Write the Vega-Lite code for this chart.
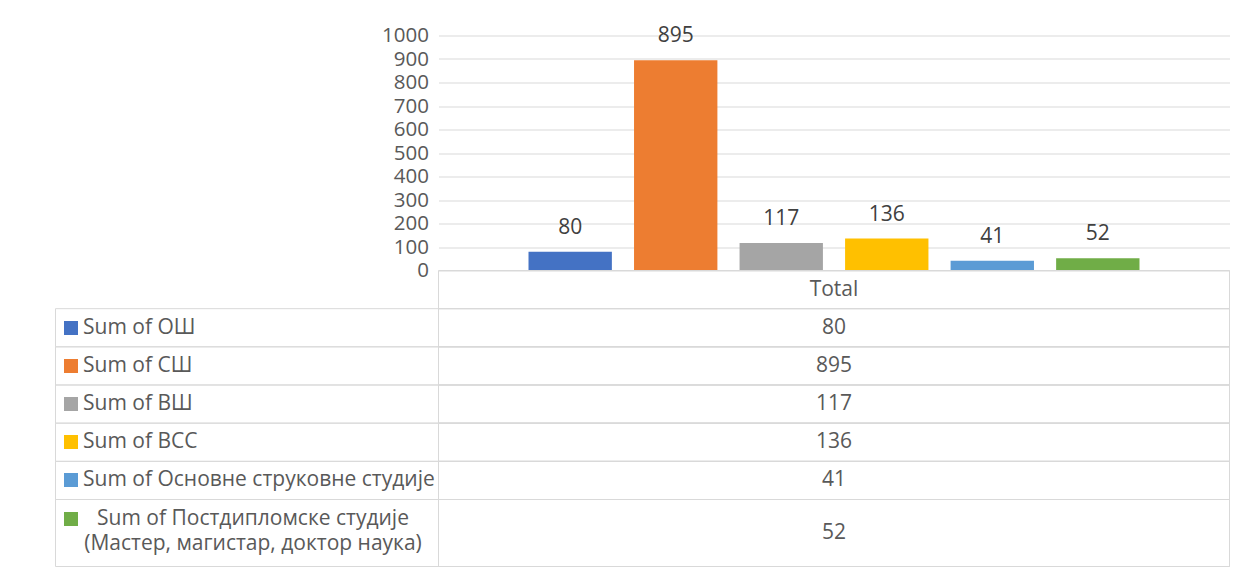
{
  "$schema": "https://vega.github.io/schema/vega-lite/v6.json",
  "padding": {"left": 54.5, "top": 24.5, "right": 5, "bottom": 5},
  "background": "white",
  "spacing": 0,
  "bounds": "flush",
  "config": {
    "view": {"stroke": null},
    "font": "Open Sans",
    "text": {"font": "Open Sans"},
    "axis": {"labelFont": "Open Sans"}
  },
  "datasets": {
    "d": [
      {"series": "Sum of ОШ", "value": 80},
      {"series": "Sum of СШ", "value": 895},
      {"series": "Sum of ВШ", "value": 117},
      {"series": "Sum of ВСС", "value": 136},
      {"series": "Sum of Основне струковне студије", "value": 41},
      {"series": "Sum of Постдипломске студије (Мастер, магистар, доктор наука)", "value": 52}
    ]
  },
  "vconcat": [
    {
      "width": 1174,
      "height": 235,
      "data": {"name": "d"},
      "encoding": {
        "x": {"datum": "Total", "type": "nominal", "scale": {"range": [383, 1174], "paddingInner": 0, "paddingOuter": 0}, "axis": null},
        "xOffset": {"field": "series", "type": "nominal", "sort": null, "scale": {"paddingInner": 0.21, "paddingOuter": 0.853}},
        "y": {
          "field": "value", "type": "quantitative",
          "scale": {"domain": [0, 1000], "nice": false},
          "axis": {
            "title": null, "offset": -383, "values": [0, 100, 200, 300, 400, 500, 600, 700, 800, 900, 1000],
            "format": "d",
            "domain": false, "ticks": false, "labelPadding": 10, "labelFontSize": 20.5, "labelColor": "#595959",
            "labelFlush": false, "labelOverlap": false, "grid": true, "gridColor": "#D9D9D9", "gridWidth": 1
          }
        }
      },
      "layer": [
        {
          "mark": {"type": "bar"},
          "encoding": {
            "color": {
              "field": "series", "type": "nominal", "sort": null,
              "scale": {
                "domain": ["Sum of ОШ", "Sum of СШ", "Sum of ВШ", "Sum of ВСС", "Sum of Основне струковне студије", "Sum of Постдипломске студије (Мастер, магистар, доктор наука)"],
                "range": ["#4472C4", "#ED7D31", "#A5A5A5", "#FFC000", "#5B9BD5", "#70AD47"]
              },
              "legend": null
            }
          }
        },
        {
          "mark": {"type": "text", "baseline": "alphabetic", "dy": -18, "fontSize": 21, "color": "#404040"},
          "encoding": {"text": {"field": "value", "type": "quantitative"}}
        }
      ]
    },
    {
      "width": 1174,
      "height": 229,
      "encoding": {
        "x": {"datum": "Total", "type": "nominal", "scale": {"range": [383, 1174], "paddingInner": 0, "paddingOuter": 0}, "axis": null},
        "y": {
          "field": "series", "type": "nominal",
          "scale": {"domain": ["Total", "Sum of ОШ", "Sum of СШ", "Sum of ВШ", "Sum of ВСС", "Sum of Основне струковне студије"], "paddingInner": 0, "paddingOuter": 0},
          "axis": {
            "title": null, "domain": false, "grid": false, "offset": -22,
            "ticks": true, "tickBand": "center", "tickSize": 14, "tickWidth": 14,
            "tickColor": {
              "condition": [
                {"test": "datum.value === 'Sum of ОШ'", "value": "#4472C4"},
                {"test": "datum.value === 'Sum of СШ'", "value": "#ED7D31"},
                {"test": "datum.value === 'Sum of ВШ'", "value": "#A5A5A5"},
                {"test": "datum.value === 'Sum of ВСС'", "value": "#FFC000"},
                {"test": "datum.value === 'Sum of Основне струковне студије'", "value": "#5B9BD5"}
              ],
              "value": "transparent"
            },
            "labelAlign": "left", "labelPadding": -19, "labelFontSize": 21, "labelColor": "#595959", "labelLimit": 0,
            "labelExpr": "datum.value === 'Total' ? '' : datum.label"
          }
        }
      },
      "layer": [
        {
          "data": {"name": "d"},
          "transform": [{"filter": {"field": "series", "oneOf": ["Sum of ОШ", "Sum of СШ", "Sum of ВШ", "Sum of ВСС", "Sum of Основне струковне студије"]}}],
          "layer": [
            {"mark": {"type": "rect", "filled": false, "stroke": "#D9D9D9", "strokeWidth": 1}, "encoding": {"x": null}},
            {"mark": {"type": "rect", "filled": false, "stroke": "#D9D9D9", "strokeWidth": 1}},
            {"mark": {"type": "text", "fontSize": 21, "color": "#595959", "baseline": "middle"}, "encoding": {"text": {"field": "value", "type": "quantitative"}}}
          ]
        },
        {
          "data": {"values": [{"series": "Total"}]},
          "layer": [
            {"mark": {"type": "rect", "filled": false, "stroke": "#D9D9D9", "strokeWidth": 1}},
            {"mark": {"type": "text", "fontSize": 21, "color": "#595959", "baseline": "middle"}, "encoding": {"text": {"field": "series", "type": "nominal"}}}
          ]
        }
      ]
    },
    {
      "width": 1174,
      "height": 67,
      "data": {"name": "d"},
      "transform": [{"filter": {"field": "series", "oneOf": ["Sum of Постдипломске студије (Мастер, магистар, доктор наука)"]}}],
      "encoding": {
        "x": {"datum": "Total", "type": "nominal", "scale": {"range": [383, 1174], "paddingInner": 0, "paddingOuter": 0}, "axis": null},
        "y": {
          "field": "series", "type": "nominal",
          "scale": {"paddingInner": 0, "paddingOuter": 0},
          "axis": {
            "title": null, "domain": false, "grid": false, "offset": -22,
            "ticks": true, "tickBand": "center", "tickSize": 14, "tickWidth": 14, "tickOffset": -15, "tickColor": "#70AD47",
            "labelAlign": "center", "labelPadding": -189, "labelFontSize": 21, "labelColor": "#595959", "labelLimit": 0,
            "labelLineHeight": 25,
            "labelExpr": "split(replace(datum.label, ' (', '|('), '|')"
          }
        }
      },
      "layer": [
        {"mark": {"type": "rect", "filled": false, "stroke": "#D9D9D9", "strokeWidth": 1}, "encoding": {"x": null}},
        {"mark": {"type": "rect", "filled": false, "stroke": "#D9D9D9", "strokeWidth": 1}},
        {"mark": {"type": "text", "fontSize": 21, "color": "#595959", "baseline": "middle"}, "encoding": {"text": {"field": "value", "type": "quantitative"}}}
      ]
    }
  ]
}
